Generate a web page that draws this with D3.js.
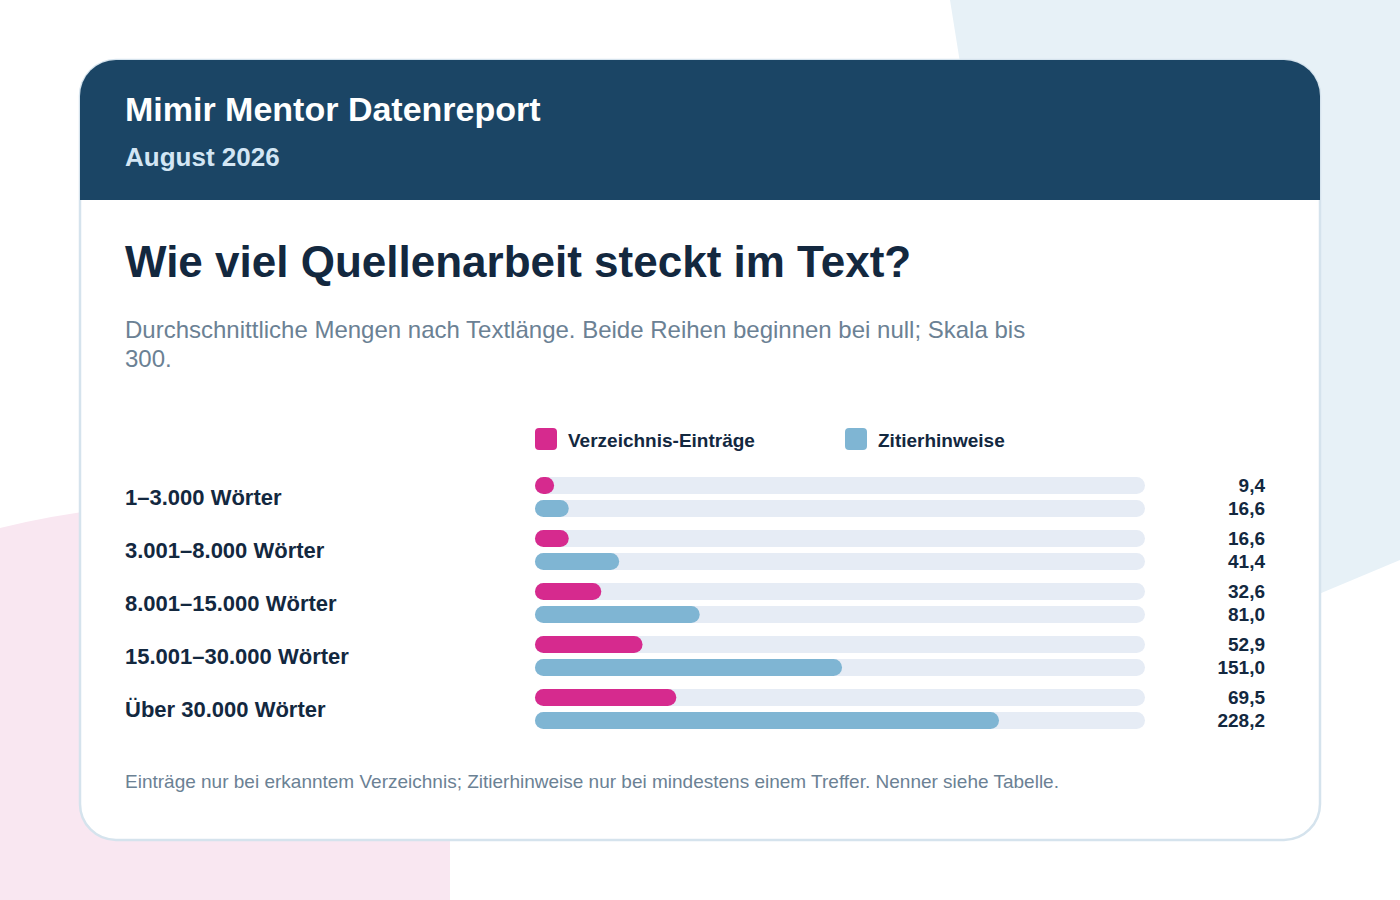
<!DOCTYPE html>
<html><head><meta charset="utf-8">
<script src="https://cdn.jsdelivr.net/npm/d3@7"></script>
<style>
html,body{margin:0;padding:0;background:#fff;}
svg{display:block;font-family:"Liberation Sans",Arial,Helvetica,sans-serif;}
</style></head>
<body>
<svg id="chart" width="1400" height="900"></svg>
<script>
const categories = ["1–3.000 Wörter","3.001–8.000 Wörter","8.001–15.000 Wörter","15.001–30.000 Wörter","Über 30.000 Wörter"];
const seriesNames = ["Verzeichnis-Einträge","Zitierhinweise"];
const verzeichnis = [9.4,16.6,32.6,52.9,69.5];
const zitier = [16.6,41.4,81.0,151.0,228.2];
const scaleMax = 300;

const colors = {pink:"#d62a8e", blue:"#7fb5d3", track:"#e6ecf5", ink:"#13283f", header:"#1b4565", gray:"#6b8194"};
const svg = d3.select("#chart");

// background shapes
svg.append("path").attr("d","M950,0 L1400,0 L1400,560 L1062,702 Z").attr("fill","#e7f1f7");
svg.append("path").attr("d","M0,528 Q120,498 300,498 L450,498 L450,900 L0,900 Z").attr("fill","#f9e7f1");

// card
const cx=80, cy=60, cw=1240, ch=780, r=36;
svg.append("rect").attr("x",cx).attr("y",cy).attr("width",cw).attr("height",ch).attr("rx",r)
  .attr("fill","#fff").attr("stroke","#d5e3ed").attr("stroke-width",2.5);
svg.append("path")
  .attr("d",`M${cx},${cy+r} A${r},${r} 0 0 1 ${cx+r},${cy} L${cx+cw-r},${cy} A${r},${r} 0 0 1 ${cx+cw},${cy+r} L${cx+cw},200 L${cx},200 Z`)
  .attr("fill",colors.header);

svg.append("text").attr("x",125).attr("y",121).attr("fill","#fff").attr("font-size",34).attr("font-weight","bold").text("Mimir Mentor Datenreport");
svg.append("text").attr("x",125).attr("y",166).attr("fill","#d3e6f4").attr("font-size",26).attr("font-weight","bold").text("August 2026");

svg.append("text").attr("x",125).attr("y",277).attr("fill",colors.ink).attr("font-size",44).attr("font-weight","bold").text("Wie viel Quellenarbeit steckt im Text?");
const sub = svg.append("text").attr("fill",colors.gray).attr("font-size",24);
sub.append("tspan").attr("x",125).attr("y",338).text("Durchschnittliche Mengen nach Textlänge. Beide Reihen beginnen bei null; Skala bis");
sub.append("tspan").attr("x",125).attr("y",367).text("300.");

// legend
const legendX = [535,845];
const seriesColors = [colors.pink, colors.blue];
seriesNames.forEach((n,i)=>{
  svg.append("rect").attr("x",legendX[i]).attr("y",428).attr("width",22).attr("height",22).attr("rx",4).attr("fill",seriesColors[i]);
  svg.append("text").attr("x",legendX[i]+33).attr("y",447).attr("fill",colors.ink).attr("font-size",19).attr("font-weight","bold").text(n);
});

// scales
const x = d3.scaleLinear().domain([0,scaleMax]).range([535,1145]);
const y = d3.scaleBand().domain(categories).range([474,739]).paddingInner(0).paddingOuter(0);
const barH = 17, gap = 6;
const fmt = v => d3.format(".1f")(v).replace(".",",");

const g = svg.append("g");
categories.forEach((c,i)=>{
  const top = y(c) + 3;
  const vals = [verzeichnis[i], zitier[i]];
  vals.forEach((v,j)=>{
    const by = top + j*(barH+gap);
    g.append("rect").attr("x",x(0)).attr("y",by).attr("width",x(scaleMax)-x(0)).attr("height",barH).attr("rx",barH/2).attr("fill",colors.track);
    g.append("rect").attr("x",x(0)).attr("y",by).attr("width",Math.max(barH,x(v)-x(0))).attr("height",barH).attr("rx",barH/2).attr("fill",seriesColors[j]);
    g.append("text").attr("x",1265).attr("y",by+barH/2+6.5).attr("text-anchor","end").attr("fill",colors.ink).attr("font-size",19).attr("font-weight","bold").text(fmt(v));
  });
  g.append("text").attr("x",125).attr("y",top+barH+gap/2+8).attr("fill",colors.ink).attr("font-size",22).attr("font-weight","bold").text(c);
});

svg.append("text").attr("x",125).attr("y",788).attr("fill",colors.gray).attr("font-size",19)
  .text("Einträge nur bei erkanntem Verzeichnis; Zitierhinweise nur bei mindestens einem Treffer. Nenner siehe Tabelle.");
</script>
</body></html>
